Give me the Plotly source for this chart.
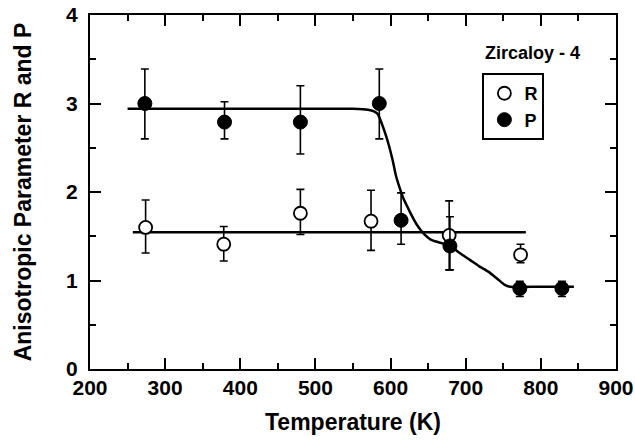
import plotly.graph_objects as go

# ---- data ----
r_temp = [274, 378, 480, 574, 678, 773]
r_val = [1.60, 1.41, 1.76, 1.67, 1.51, 1.29]
r_err_hi = [1.91, 1.61, 2.03, 2.02, 1.90, 1.41]
r_err_lo = [1.31, 1.22, 1.52, 1.34, 1.12, 1.20]

p_temp = [273, 379, 480, 585, 614, 679, 772, 828]
p_val = [3.00, 2.79, 2.79, 3.00, 1.68, 1.39, 0.91, 0.91]
p_err_hi = [3.39, 3.02, 3.20, 3.39, 1.99, 1.72, 0.99, 0.99]
p_err_lo = [2.60, 2.60, 2.43, 2.60, 1.41, 1.12, 0.82, 0.82]

# fitted curves
fit_p_temp = [250, 400, 550, 570, 578, 583, 588, 593, 598, 603, 607, 612, 617, 622, 626,
              635, 645, 654, 665, 679, 692, 706, 718, 730, 742, 752, 759, 800, 844]
fit_p_val = [2.94, 2.94, 2.94, 2.93, 2.91, 2.88, 2.78, 2.66, 2.52, 2.35, 2.19, 2.05, 1.93,
             1.84, 1.77, 1.63, 1.52, 1.46, 1.43, 1.39, 1.31, 1.23, 1.16, 1.10, 1.02, 0.95,
             0.93, 0.93, 0.93]
fit_r_temp = [257, 780]
fit_r_val = [1.545, 1.545]

x_ticks = [200, 300, 400, 500, 600, 700, 800, 900]
y_ticks = [0, 1, 2, 3, 4]

FONT = "Liberation Sans"

def minus(v, lo):
    return [a - b for a, b in zip(v, lo)]

def plus(v, hi):
    return [b - a for a, b in zip(v, hi)]

fig = go.Figure()

fig.add_trace(go.Scatter(x=fit_p_temp, y=fit_p_val, mode="lines",
                         line=dict(color="black", width=2.5, shape="spline", smoothing=0.6),
                         showlegend=False, hoverinfo="skip"))
fig.add_trace(go.Scatter(x=fit_r_temp, y=fit_r_val, mode="lines",
                         line=dict(color="black", width=2.5),
                         showlegend=False, hoverinfo="skip"))

fig.add_trace(go.Scatter(
    x=r_temp, y=r_val, mode="markers", name="R",
    marker=dict(symbol="circle", size=13, color="white", line=dict(color="black", width=1.8)),
    error_y=dict(type="data", symmetric=False, array=plus(r_val, r_err_hi),
                 arrayminus=minus(r_val, r_err_lo), color="black", thickness=1.6, width=4),
))
fig.add_trace(go.Scatter(
    x=p_temp, y=p_val, mode="markers", name="P",
    marker=dict(symbol="circle", size=14, color="black", line=dict(color="black", width=1)),
    error_y=dict(type="data", symmetric=False, array=plus(p_val, p_err_hi),
                 arrayminus=minus(p_val, p_err_lo), color="black", thickness=1.6, width=4),
))

axis_common = dict(
    showline=True, linecolor="black", linewidth=2, mirror="allticks",
    ticks="inside", ticklen=11, tickwidth=2, tickcolor="black",
    showgrid=False, zeroline=False, automargin=False,
    tickfont=dict(family=FONT, size=21, color="black", weight="bold"),
)

fig.update_xaxes(
    range=[200, 900], tickvals=x_ticks, ticktext=[str(v) for v in x_ticks],
    minor=dict(ticks="inside", ticklen=6, tickwidth=1.5, tickcolor="black", dtick=50, tick0=200, showgrid=False),
    title=dict(text="Temperature (K)", font=dict(family=FONT, size=23, color="black", weight="bold"), standoff=16),
    ticklabelstandoff=-1,
    **axis_common,
)
fig.update_yaxes(
    range=[0, 4], tickvals=y_ticks, ticktext=[str(v) for v in y_ticks],
    minor=dict(ticks="inside", ticklen=6, tickwidth=1.5, tickcolor="black", dtick=0.5, tick0=0, showgrid=False),
    title=dict(text="Anisotropic Parameter R and P", font=dict(family=FONT, size=23, color="black", weight="bold"), standoff=28),
    ticklabelstandoff=6,
    **axis_common,
)

fig.add_annotation(xref="paper", yref="paper", x=0.935, y=0.893, xanchor="right", yanchor="middle",
                   text="Zircaloy - 4", showarrow=False,
                   font=dict(family=FONT, size=18, color="black", weight="bold"))

fig.update_layout(
    width=635, height=441,
    margin=dict(l=90, r=19, t=15, b=72),
    paper_bgcolor="white", plot_bgcolor="white",
    legend=dict(x=0.746, y=0.836, xanchor="left", yanchor="top",
                bordercolor="black", borderwidth=2, bgcolor="white",
                font=dict(family=FONT, size=18, color="black", weight="bold"),
                tracegroupgap=0, itemwidth=30),
)

fig.write_html("out.html", config={"displayModeBar": False},
               post_script="document.body.style.margin='0';document.body.style.padding='0';")
